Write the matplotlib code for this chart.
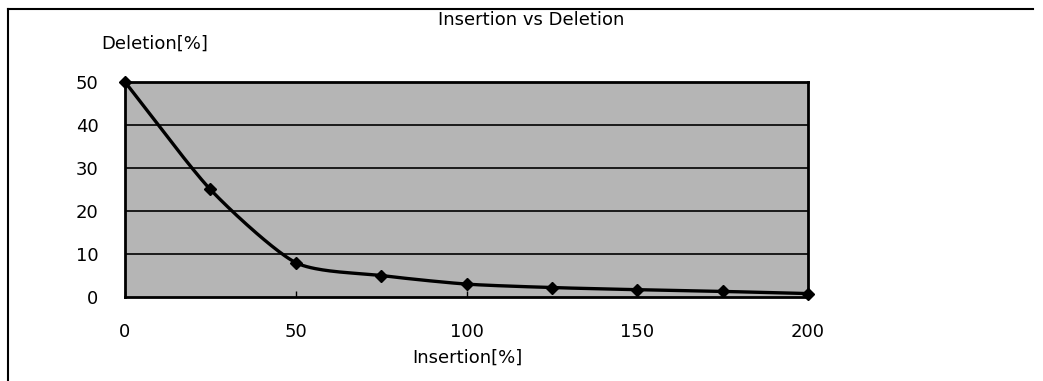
import numpy as np
import matplotlib
matplotlib.use("Agg")
import matplotlib.pyplot as plt
from matplotlib.lines import Line2D

insertion = [0, 25, 50, 75, 100, 125, 150, 175, 200]
deletion = [50, 25, 8, 5, 3, 2.2, 1.7, 1.3, 0.8]
x_ticks = [0, 50, 100, 150, 200]
y_ticks = [0, 10, 20, 30, 40, 50]

plt.rcParams['font.family'] = ['DejaVu Sans']

def smooth(xs, ys, n=40, t=0.5):
    xs = np.asarray(xs, float); ys = np.asarray(ys, float)
    px = np.concatenate([[2*xs[0]-xs[1]], xs, [2*xs[-1]-xs[-2]]])
    py = np.concatenate([[2*ys[0]-ys[1]], ys, [2*ys[-1]-ys[-2]]])
    ox, oy = [], []
    for i in range(1, len(px)-2):
        p0 = np.array([px[i], py[i]]); p1 = np.array([px[i+1], py[i+1]])
        m0 = t*(np.array([px[i+1], py[i+1]]) - np.array([px[i-1], py[i-1]]))
        m1 = t*(np.array([px[i+2], py[i+2]]) - np.array([px[i], py[i]]))
        s = np.linspace(0, 1, n)
        h00 = 2*s**3 - 3*s**2 + 1; h10 = s**3 - 2*s**2 + s
        h01 = -2*s**3 + 3*s**2; h11 = s**3 - s**2
        pts = (np.outer(h00, p0) + np.outer(h10, m0) + np.outer(h01, p1) + np.outer(h11, m1))
        ox.extend(pts[:, 0]); oy.extend(pts[:, 1])
    return ox, oy

fig = plt.figure(figsize=(10.43, 3.81), dpi=100)
ax = fig.add_axes([125/1043, 1-297/381, (808-125)/1043, (297-82)/381])
ax.set_facecolor('#b5b5b5')
ax.set_xlim(0, 200)
ax.set_ylim(0, 50)
for yv in y_ticks[1:-1]:
    ax.axhline(yv, color='black', lw=1.2, zorder=1)

sx, sy = smooth(insertion, deletion, t=0.35)
ax.plot(sx, sy, color='black', lw=2.4, zorder=3, clip_on=False)
ax.plot(insertion, deletion, linestyle='none', marker='D', color='black',
        markersize=6.5, zorder=4, clip_on=False)

ax.set_xticks(x_ticks)
ax.set_yticks(y_ticks)
ax.set_xticklabels([str(v) for v in x_ticks], fontsize=13)
ax.set_yticklabels([str(v) for v in y_ticks], fontsize=13)
ax.tick_params(axis='x', direction='in', length=4, width=1, pad=19)
ax.tick_params(axis='y', length=0, pad=19)
for sp in ax.spines.values():
    sp.set_linewidth(2)
    sp.set_color('black')

fig.text(467/1043, 1-358/381, 'Insertion[%]', ha='center', va='center', fontsize=13)
fig.text(101/1043, 1-44/381, 'Deletion[%]', ha='left', va='center', fontsize=13)
fig.text(531/1043, 1-20/381, 'Insertion vs Deletion', ha='center', va='center', fontsize=13)

fig.add_artist(Line2D([8/1043, 8/1043], [0, 1-9/381], transform=fig.transFigure, color='black', lw=1.5))
fig.add_artist(Line2D([8/1043, 1033/1043], [1-9/381, 1-9/381], transform=fig.transFigure, color='black', lw=1.5))

fig.savefig('out.png', dpi=100)
